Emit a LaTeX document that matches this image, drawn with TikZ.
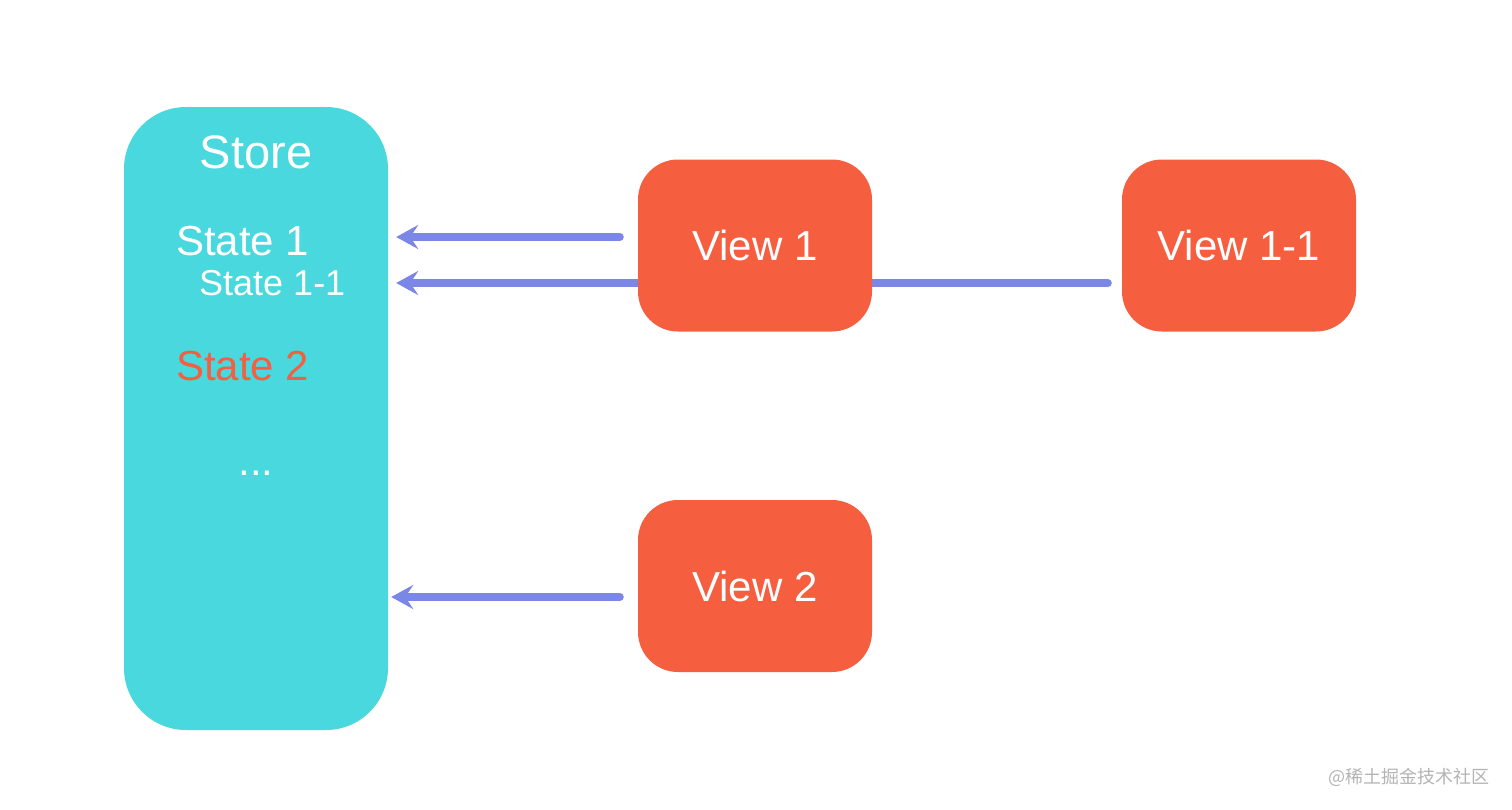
\documentclass[tikz,border=0pt]{standalone}
\usepackage{fontspec}
\setmainfont{Liberation Sans}
\newfontfamily\cjk{Noto Sans CJK SC}
\usetikzlibrary{arrows.meta,backgrounds}
\definecolor{storecol}{HTML}{48D8DD}
\definecolor{viewcol}{HTML}{F65E40}
\definecolor{arrowcol}{HTML}{7B87E6}
\definecolor{markgray}{HTML}{B4B4B4}
\tikzset{
  storebox/.style={fill=storecol, draw=none, rounded corners=62pt, minimum width=264pt, minimum height=623pt, inner sep=0pt},
  viewbox/.style={fill=viewcol, draw=none, rounded corners=40pt, minimum width=234pt, minimum height=172pt, inner sep=0pt, text=white, font=\fontsize{42}{50}\selectfont},
  bigtxt/.style={text=white, font=\fontsize{42}{50}\selectfont, inner sep=0pt, anchor=west},
  smalltxt/.style={text=white, font=\fontsize{36}{42}\selectfont, inner sep=0pt, anchor=west},
  conn/.style={draw=arrowcol, line width=8pt, line cap=round},
}
\begin{document}
\begin{tikzpicture}[x=1pt,y=-1pt]
\useasboundingbox (0,0) rectangle (1512,809);
\node[storebox] (store) at (256,418.5) {};
\node[text=white, font=\fontsize{47}{54}\selectfont, inner sep=0pt] (storelbl) at (256,152) {Store};
\node[bigtxt] (s1) at (176,241) {State 1};
\node[smalltxt] (s11) at (199,283) {State 1-1};
\node[bigtxt, text=viewcol] (s2) at (176,366) {State 2};
\node[text=white, font=\fontsize{42}{50}\selectfont, inner sep=0pt] (dots) at (256,473) {...};
\node[viewbox] (v1) at (755,245.5) {View 1};
\node[viewbox] (v11) at (1239,245.5) {View 1-1};
\node[viewbox] (v2) at (755,586) {View 2};
\begin{scope}[on background layer]
\fill[white] (0,0) rectangle (1512,809);
\draw[conn, -{Stealth[length=22pt 0 0, width=24pt 0 0, inset=8pt 0]}] ([xshift=-14pt]v11.west |- s11) -- ([xshift=8pt]store.east |- s11);
\end{scope}
\draw[conn, -{Stealth[length=22pt 0 0, width=24pt 0 0, inset=8pt 0]}] ([xshift=-18pt]v1.west |- 0,237) -- ([xshift=8pt]store.east |- 0,237);
\draw[conn, -{Stealth[length=22pt 0 0, width=24pt 0 0, inset=8pt 0]}] ([xshift=-18pt]v2.west |- 0,597) -- ([xshift=3pt]store.east |- 0,597);
\node[text=markgray, font=\cjk\fontsize{18}{20}\selectfont, inner sep=0pt, anchor=east] (mark) at (1490,777) {@稀土掘金技术社区};
\end{tikzpicture}
\end{document}
